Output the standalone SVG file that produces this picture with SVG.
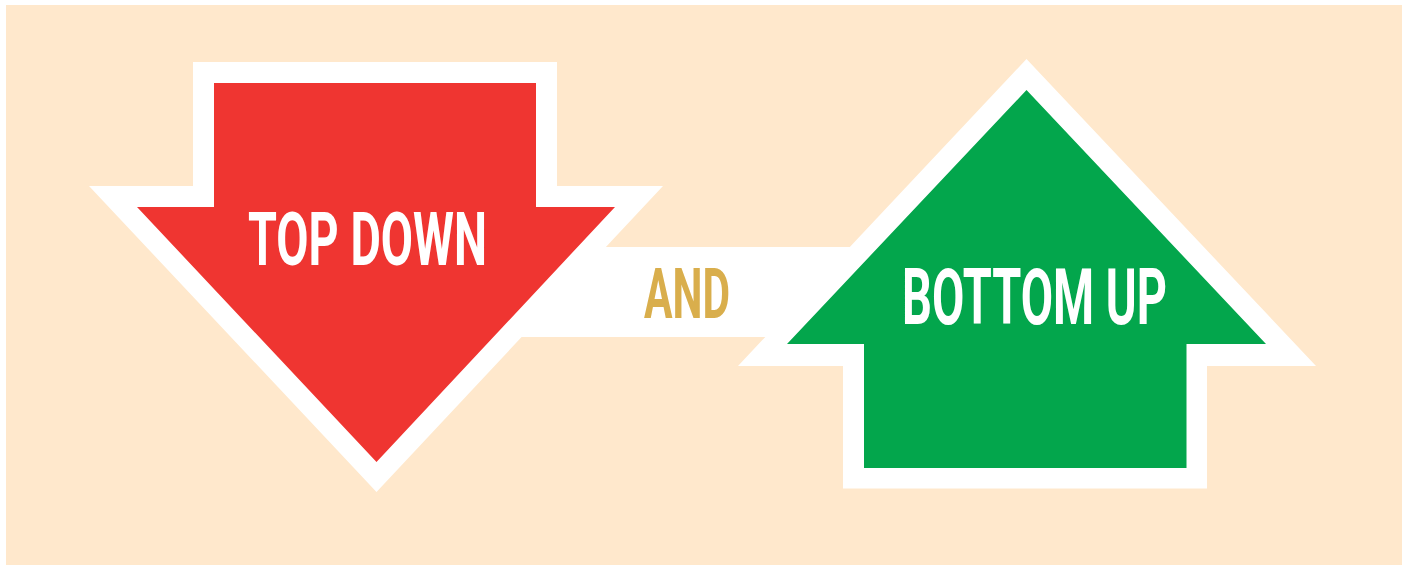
<svg xmlns="http://www.w3.org/2000/svg" width="1408" height="565" viewBox="0 0 1408 565">
  <style>
    .outline { fill: #FFFFFF; }
    .label { font-family: Roboto, "Liberation Sans", sans-serif; font-weight: 700; fill: #FFFFFF; }
    .and { font-family: Roboto, "Liberation Sans", sans-serif; font-weight: 700; fill: #D9AE4C; }
  </style>
  <rect x="0" y="0" width="1408" height="565" fill="#FFFFFF"/>
  <rect x="6" y="5" width="1396" height="560" fill="#FFE8CC"/>

  <g id="connectors">
    <rect x="515" y="247" width="345" height="90" class="outline"/>
  </g>

  <g id="top-down">
    <polygon class="outline" points="193,62 557,62 557,186 663,186 376.5,492 89,186 193,186"/>
    <polygon fill="#EF3531" points="214,83 536,83 536,207 615,207 376.5,462 137,207 214,207"/>
    <text class="label" x="248" y="265" font-size="74" textLength="239" lengthAdjust="spacingAndGlyphs">TOP DOWN</text>
  </g>

  <g id="and">
    <text class="and" x="644" y="318" font-size="71" textLength="86" lengthAdjust="spacingAndGlyphs">AND</text>
  </g>

  <g id="bottom-up">
    <polygon class="outline" points="1026.5,59 1316,366 1207,366 1207,488.5 843,488.5 843,366 738,366"/>
    <polygon fill="#03A64C" points="1026.5,90 1266,344 1186.5,344 1186.5,468 864,468 864,344 787,344"/>
    <text class="label" x="902" y="324" font-size="78" textLength="265" lengthAdjust="spacingAndGlyphs">BOTTOM UP</text>
  </g>
</svg>
